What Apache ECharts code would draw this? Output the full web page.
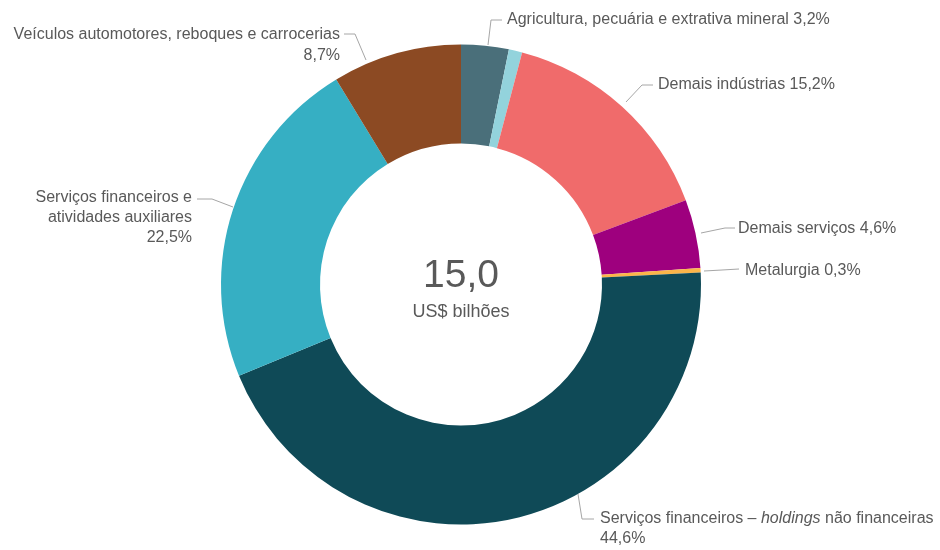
<!DOCTYPE html>
<html>
<head>
<meta charset="utf-8">
<script src="https://cdn.jsdelivr.net/npm/echarts@6/dist/echarts.min.js"></script>
<style>
  html, body { margin: 0; padding: 0; background: #ffffff; }
  #chart { width: 940px; height: 550px; }
</style>
</head>
<body>
<div id="chart"></div>
<script>
// Sector breakdown, clockwise from 12 o'clock
const sectors = [
  'Agricultura, pecuária e extrativa mineral',
  'Outros',
  'Demais indústrias',
  'Demais serviços',
  'Metalurgia',
  'Serviços financeiros – holdings não financeiras',
  'Serviços financeiros e atividades auxiliares',
  'Veículos automotores, reboques e carrocerias'
];
const shares = [3.2, 0.9, 15.2, 4.6, 0.3, 44.6, 22.5, 8.7];
const totalValue = 15.0;
const totalUnit = 'US$ bilhões';

const sliceColors = ['#4a6f7a', '#93d3dc', '#f06b6b', '#9e007e', '#fbb54a', '#0f4a57', '#36afc3', '#8c4a23'];
const textColor = '#595959';
const fontFamily = '"Liberation Sans", Arial, sans-serif';

const pct = v => v.toFixed(1).replace('.', ',') + '%';

// Label placement and leader-line geometry per slice
const labelSpec = {
  0: { x: 507, y: 20, align: 'left', line: [[488, 45], [491, 20], [502, 20]],
       text: (n, v) => n + ' ' + pct(v) },
  2: { x: 658, y: 85, align: 'left', line: [[626, 102], [642, 85], [653, 85]],
       text: (n, v) => n + ' ' + pct(v) },
  3: { x: 738, y: 229, align: 'left', line: [[701, 233], [725, 228], [735, 228]],
       text: (n, v) => n + ' ' + pct(v) },
  4: { x: 745, y: 271, align: 'left', line: [[704, 271], [722, 270], [739, 269]],
       text: (n, v) => n + ' ' + pct(v) },
  5: { x: 600, y: 529, align: 'left', line: [[578, 494], [582, 519], [594, 519]],
       text: (n, v) => n.replace('holdings', '{i|holdings}') + '\n' + pct(v) },
  6: { x: 192, y: 218, align: 'right', line: [[233, 207], [212, 199], [197, 199]],
       text: (n, v) => n.replace(' atividades', '\natividades') + '\n' + pct(v) },
  7: { x: 340, y: 45, align: 'right', lineHeight: 21, line: [[366, 60], [355, 34], [344, 34]],
       text: (n, v) => n + '\n' + pct(v) }
};

const pieData = sectors.map((name, i) => {
  const spec = labelSpec[i];
  const label = { show: !!spec };
  if (spec && spec.lineHeight) label.lineHeight = spec.lineHeight;
  return {
    name: name,
    value: shares[i],
    itemStyle: { color: sliceColors[i] },
    label: label,
    labelLine: { show: !!spec }
  };
});

const chart = echarts.init(document.getElementById('chart'), null, { renderer: 'canvas' });

chart.setOption({
  backgroundColor: '#ffffff',
  animation: false,
  textStyle: { fontFamily: fontFamily },
  graphic: [
    {
      type: 'text', x: 461, y: 276,
      style: {
        text: totalValue.toFixed(1).replace('.', ','),
        fontSize: 39, fontFamily: fontFamily, fill: textColor,
        align: 'center', verticalAlign: 'middle',
        textAlign: 'center', textVerticalAlign: 'middle'
      }
    },
    {
      type: 'text', x: 461, y: 312,
      style: {
        text: totalUnit,
        fontSize: 18, fontFamily: fontFamily, fill: textColor,
        align: 'center', verticalAlign: 'middle',
        textAlign: 'center', textVerticalAlign: 'middle'
      }
    }
  ],
  series: [{
    type: 'pie',
    center: [461, 284.5],
    radius: [141, 240],
    startAngle: 90,
    clockwise: true,
    avoidLabelOverlap: false,
    emphasis: { disabled: true },
    itemStyle: { borderWidth: 0 },
    label: {
      position: 'outside',
      color: textColor,
      fontSize: 16,
      fontFamily: fontFamily,
      lineHeight: 20,
      formatter: p => labelSpec[p.dataIndex] ? labelSpec[p.dataIndex].text(p.name, p.value) : '',
      rich: {
        i: { fontStyle: 'italic', color: textColor, fontSize: 16, fontFamily: fontFamily, lineHeight: 20 }
      }
    },
    labelLine: {
      show: true,
      lineStyle: { color: '#a6a6a6', width: 1 }
    },
    labelLayout: function (params) {
      const s = labelSpec[params.dataIndex];
      if (!s) return {};
      return {
        x: s.x,
        y: s.y,
        align: s.align,
        verticalAlign: 'middle',
        labelLinePoints: s.line
      };
    },
    data: pieData
  }]
});
</script>
</body>
</html>
